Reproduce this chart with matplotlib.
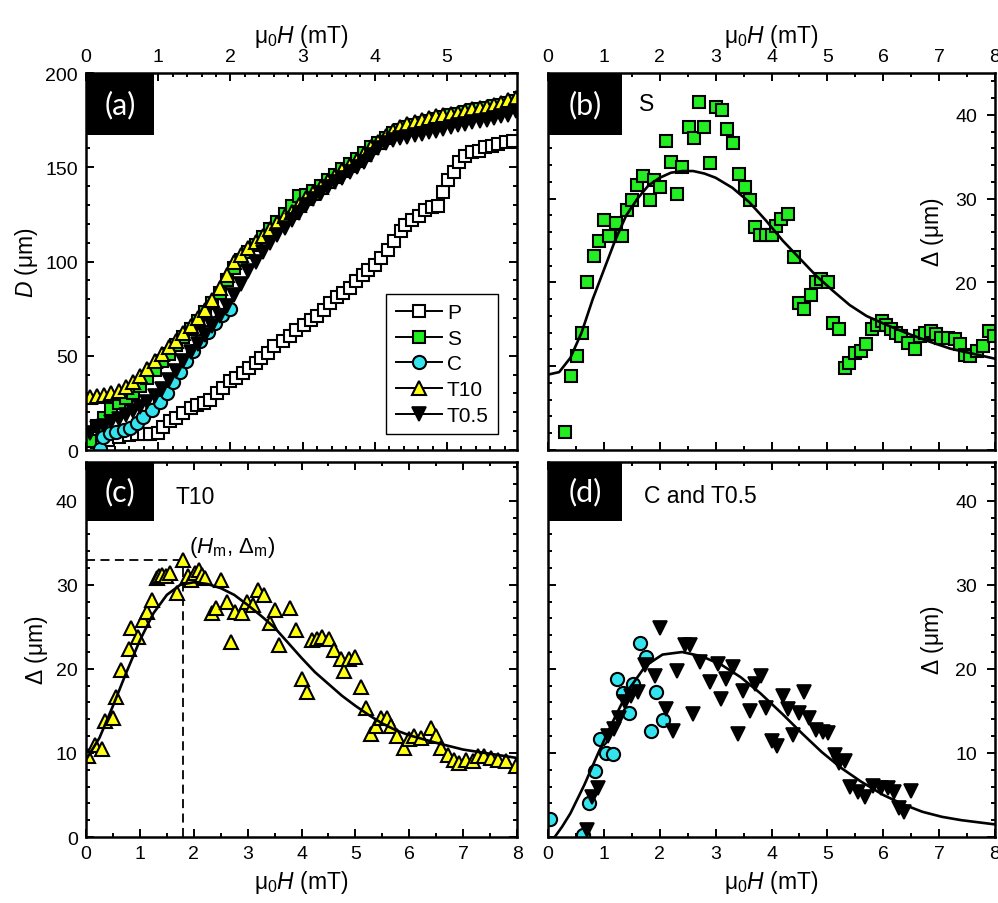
import matplotlib.pyplot as plt
import numpy as np
from matplotlib import font_manager as fm
from matplotlib.lines import Line2D
from matplotlib.patches import Rectangle
from matplotlib.ticker import MultipleLocator


def italic_family():
    # first sans family that really ships an italic face
    for fam in ['Liberation Sans', 'Arimo', 'Roboto', 'Open Sans', 'Noto Sans', 'DejaVu Sans']:
        for f in fm.fontManager.ttflist:
            if f.name == fam and f.style in ('italic', 'oblique'):
                return fam
    return 'DejaVu Sans'


plt.rcParams['font.family'] = ['Liberation Sans', 'DejaVu Sans']
plt.rcParams['mathtext.fontset'] = 'custom'
plt.rcParams['mathtext.rm'] = 'Liberation Sans'
plt.rcParams['mathtext.it'] = italic_family() + ':italic'

GREEN = '#22ee22'
CYAN = '#33e3ee'
YELLOW = '#ffff14'

# (a) domain size D (um) vs field (mT)
field_a = [0.05, 0.15, 0.25, 0.35, 0.45, 0.55, 0.65, 0.75, 0.85, 0.95,
           1.05, 1.15, 1.25, 1.35, 1.45, 1.55, 1.65, 1.75, 1.85, 1.95,
           2.05, 2.15, 2.25, 2.35, 2.45, 2.55, 2.65, 2.75, 2.85, 2.95,
           3.05, 3.15, 3.25, 3.35, 3.45, 3.55, 3.65, 3.75, 3.85, 3.95,
           4.05, 4.15, 4.25, 4.35, 4.45, 4.55, 4.65, 4.75, 4.85, 4.95,
           5.05, 5.15, 5.25, 5.35, 5.45, 5.55, 5.65, 5.75, 5.85, 5.95]
d_S = [5, 13, 17, 22, 25, 27.5, 30.5, 34, 38, 42.5,
       47, 51, 55.5, 60, 64, 68.5, 73, 78, 83.5, 90,
       96.5, 101, 105, 109, 113, 117, 121, 125, 129.5, 135,
       135.5, 137.5, 140, 143, 146, 149, 151.5, 154.5, 157.5, 160.5,
       163, 165.5, 168, 170, 171.5, 172.5, 173.5, 174.5, 175.5, 176.5,
       177.5, 178.5, 179.5, 180.5, 181, 181.5, 182.5, 183, 184, 185]
d_T10 = [28.3, 28.5, 29.3, 30.0, 31.5, 33.5, 36.0, 39.0, 43.0, 47.0,
         51.0, 54.5, 58.0, 62.0, 66.0, 70.0, 74.5, 79.5, 86.0, 93.0,
         99.5, 103.5, 107.0, 110.5, 113.5, 117.0, 120.5, 124.0, 126.5, 130.0,
         133.5, 136.5, 139.5, 142.5, 145.5, 148.5, 151.0, 154.0, 157.0, 160.5,
         163.5, 166.5, 169.5, 171.5, 173.0, 174.0, 175.0, 176.0, 177.0, 178.0,
         178.5, 179.0, 180.0, 181.0, 181.5, 182.0, 183.0, 184.0, 185.5, 187.0]
d_T05 = [9, 11.5, 13, 15, 16.5, 18.5, 20.5, 23, 25.5, 28.5,
         32.5, 37, 42, 47, 52, 56.5, 61, 66, 71, 76.5,
         82, 88, 95, 100, 105, 110, 114, 118, 122, 126,
         130, 133, 136.5, 139.5, 142, 144.5, 147.5, 150, 153, 156.5,
         160, 163, 164.5, 165.5, 166, 167, 167.5, 168.5, 169.5, 170.5,
         171.5, 172.5, 173, 174, 174.5, 175, 176, 177, 178, 180]
p_field = [0.05, 0.15, 0.30, 0.45, 0.60, 0.70, 0.80, 0.89, 1.00, 1.07,
           1.16, 1.25, 1.34, 1.45, 1.54, 1.63, 1.72, 1.81, 1.90, 1.99,
           2.08, 2.17, 2.26, 2.35, 2.43, 2.52, 2.61, 2.73, 2.82, 2.91,
           3.02, 3.11, 3.20, 3.29, 3.38, 3.47, 3.56, 3.65, 3.74, 3.83,
           3.91, 4.00, 4.09, 4.18, 4.27, 4.36, 4.42, 4.51, 4.61, 4.70,
           4.79, 4.88, 4.95, 5.02, 5.09, 5.16, 5.25, 5.34, 5.44, 5.53,
           5.62, 5.71, 5.81, 5.92]
d_P = [2, 4, 5.5, 7, 8, 8.5, 8.7, 8.7, 9.0, 12.0,
       15.2, 17.0, 19.6, 22.3, 24.0, 24.9, 26.7, 30.2, 32.9, 36.4,
       38.2, 40.8, 43.5, 46.2, 48.8, 51.5, 55.0, 57.6, 60.3, 63.8,
       66.5, 69.1, 71.3, 74.4, 78.0, 81.2, 83.3, 85.9, 89.5, 93.0,
       95.7, 98.3, 101.9, 106.3, 110.7, 116.0, 119.2, 121.8, 124.4, 127.1,
       128.9, 129.5, 136.8, 143.0, 147.4, 152.7, 156.2, 158.0, 158.9, 160.6,
       161.5, 162.4, 163.3, 164.2]
c_field = [0.19, 0.24, 0.33, 0.42, 0.52, 0.61, 0.70, 0.79, 0.91, 1.03,
           1.12, 1.21, 1.30, 1.39, 1.48, 1.58, 1.69, 1.78, 1.88, 2.00]
d_C = [0.5, 7.1, 8.8, 9.7, 10.6, 11.5, 14.1, 17.7, 21.0, 25.6,
       30.0, 36.0, 41.5, 47.0, 52.3, 57.6, 62.4, 67.4, 71.8, 75.0]

# (b) width spread for sample S
s_h = [0.31, 0.42, 0.52, 0.60, 0.70, 0.82, 0.91, 1.01, 1.10, 1.21,
       1.32, 1.42, 1.50, 1.60, 1.70, 1.82, 1.90, 2.01, 2.12, 2.21,
       2.31, 2.40, 2.52, 2.61, 2.71, 2.80, 2.90, 3.01, 3.11, 3.21,
       3.31, 3.41, 3.52, 3.61, 3.70, 3.80, 3.91, 4.01, 4.08, 4.17,
       4.30, 4.41, 4.50, 4.59, 4.70, 4.80, 4.89, 5.01, 5.10, 5.20,
       5.31, 5.38, 5.49, 5.60, 5.70, 5.79, 5.88, 5.97, 6.05, 6.14,
       6.23, 6.32, 6.44, 6.56, 6.65, 6.74, 6.86, 6.95, 7.04, 7.16,
       7.28, 7.37, 7.46, 7.55, 7.67, 7.79, 7.90, 7.99]
s_delta = [2.1, 8.8, 11.2, 14.0, 20.0, 23.2, 25.0, 27.4, 25.6, 27.1,
           25.6, 28.7, 29.9, 31.6, 32.7, 29.8, 32.2, 31.4, 36.9, 34.4,
           30.6, 33.8, 38.6, 37.2, 41.6, 38.6, 34.3, 41.0, 40.6, 38.3,
           36.6, 32.9, 31.4, 29.9, 26.6, 25.7, 25.7, 25.7, 26.8, 27.6,
           28.2, 23.0, 17.6, 16.8, 18.5, 20.0, 20.4, 20.0, 15.2, 14.4,
           9.8, 10.4, 11.6, 11.8, 12.6, 14.4, 14.9, 15.4, 14.9, 14.4,
           14.0, 13.6, 12.8, 12.0, 13.6, 14.0, 14.2, 13.8, 13.4, 13.4,
           13.2, 12.6, 11.4, 11.2, 11.8, 12.4, 14.2, 13.6]
fit_b_h = [0, 0.2, 0.4, 0.6, 0.8, 1.0, 1.2, 1.4, 1.6, 1.8, 2.0, 2.2, 2.4, 2.6, 2.8,
           3.0, 3.3, 3.6, 3.9, 4.2, 4.5, 4.8, 5.1, 5.4, 5.7, 6.0, 6.4, 6.8, 7.2, 7.6, 8.0]
fit_b = [9.0, 9.3, 11.0, 14.0, 18.0, 21.5, 25.0, 28.0, 30.0, 31.6, 32.5, 33.1, 33.3, 33.3, 33.0,
         32.5, 31.3, 29.6, 27.4, 25.0, 22.9, 20.8, 19.0, 17.3, 16.0, 15.1, 14.0, 13.0, 12.1, 11.5, 10.9]

# (c) width spread for sample T10
t10_h = [0.04, 0.16, 0.30, 0.35, 0.50, 0.56, 0.65, 0.79, 0.83, 0.97,
         1.05, 1.14, 1.23, 1.31, 1.36, 1.41, 1.48, 1.56, 1.68, 1.80,
         1.89, 1.95, 2.02, 2.09, 2.15, 2.21, 2.34, 2.42, 2.51, 2.62,
         2.69, 2.77, 2.89, 2.98, 3.10, 3.19, 3.31, 3.42, 3.50, 3.58,
         3.79, 3.89, 4.01, 4.11, 4.20, 4.29, 4.38, 4.51, 4.60, 4.73,
         4.79, 4.88, 5.00, 5.10, 5.19, 5.28, 5.38, 5.47, 5.59, 5.66,
         5.78, 5.90, 6.00, 6.09, 6.21, 6.40, 6.49, 6.59, 6.71, 6.83,
         6.93, 7.05, 7.18, 7.27, 7.39, 7.52, 7.64, 7.80, 7.98]
t10_delta = [9.6, 11.0, 10.5, 13.8, 14.1, 16.6, 19.9, 22.4, 24.9, 23.8,
             25.8, 26.8, 28.2, 30.8, 31.0, 31.2, 31.0, 31.4, 29.0, 33.0,
             31.0, 30.6, 31.4, 31.8, 31.2, 30.8, 26.6, 27.2, 30.6, 28.0,
             23.2, 26.8, 26.6, 28.0, 27.6, 29.4, 28.8, 25.4, 27.0, 22.8,
             27.2, 24.6, 18.8, 17.2, 23.4, 23.6, 23.8, 23.6, 22.2, 21.2,
             19.8, 21.2, 21.4, 17.8, 15.4, 12.2, 13.2, 14.2, 14.2, 13.2,
             12.0, 10.6, 11.6, 12.0, 11.8, 13.0, 12.0, 10.6, 9.8, 9.2,
             8.8, 9.2, 9.0, 9.6, 9.6, 9.4, 9.2, 9.0, 8.4]
fit_c_h = [0, 0.25, 0.5, 0.75, 1.0, 1.25, 1.5, 1.75, 2.0, 2.25, 2.5, 2.75, 3.0, 3.25, 3.5,
           3.75, 4.0, 4.25, 4.5, 4.75, 5.0, 5.25, 5.5, 5.75, 6.0, 6.5, 7.0, 7.5, 8.0]
fit_c = [9.2, 11.8, 15.6, 19.6, 23.4, 26.6, 28.8, 30.0, 30.3, 30.1, 29.6, 28.8, 27.6, 26.3, 24.9,
         23.1, 21.3, 19.6, 18.2, 16.8, 15.6, 14.5, 13.5, 12.7, 12.1, 11.2, 10.4, 9.9, 9.4]

# (d) width spread for samples C and T0.5
dc_h = [0.04, 0.63, 0.73, 0.84, 0.93, 1.04, 1.16, 1.24, 1.34, 1.45,
        1.53, 1.64, 1.75, 1.85, 1.94, 2.05]
dc_delta = [2.1, 0.2, 4.1, 7.8, 11.7, 10.0, 9.9, 18.8, 17.1, 14.7,
            18.2, 23.1, 21.4, 12.6, 17.3, 13.9]
dt_h = [0.69, 0.79, 0.90, 1.07, 1.19, 1.27, 1.37, 1.49, 1.61, 1.73,
        1.91, 2.00, 2.12, 2.23, 2.30, 2.45, 2.54, 2.59, 2.72, 2.90,
        3.04, 3.10, 3.19, 3.31, 3.40, 3.49, 3.61, 3.70, 3.82, 3.91,
        4.00, 4.09, 4.21, 4.30, 4.39, 4.49, 4.58, 4.68, 4.80, 4.92,
        5.01, 5.13, 5.20, 5.31, 5.40, 5.55, 5.67, 5.82, 5.96, 6.08,
        6.20, 6.29, 6.38, 6.50]
dt_delta = [0.8, 4.8, 5.8, 12.0, 12.8, 14.2, 16.0, 16.8, 17.2, 20.4,
            19.2, 24.8, 15.2, 12.6, 19.8, 22.8, 22.8, 14.6, 20.8, 18.4,
            20.6, 16.4, 18.8, 20.2, 12.2, 17.4, 15.0, 18.2, 19.2, 15.4,
            11.4, 10.8, 16.8, 15.2, 12.1, 14.8, 17.2, 14.1, 12.7, 12.5,
            12.4, 9.8, 8.8, 9.0, 5.9, 5.4, 4.8, 6.1, 5.8, 5.8,
            5.4, 3.5, 3.0, 5.5]
fit_d_h = [0.12, 0.25, 0.4, 0.65, 0.9, 1.15, 1.45, 1.75, 2.05, 2.4, 2.75, 3.1, 3.45,
           3.8, 4.2, 4.55, 4.9, 5.25, 5.6, 6.0, 6.35, 6.7, 7.05, 7.4, 8.0]
fit_d = [0.0, 1.2, 2.8, 6.2, 10.0, 13.6, 17.6, 20.4, 21.7, 22.0, 21.5, 20.5, 19.0,
         17.1, 14.6, 12.3, 10.1, 8.2, 6.6, 5.0, 3.9, 3.0, 2.4, 2.0, 1.5]

XLAB = r'μ$_0$$\mathit{H}$ (mT)'
DLAB = r'$\mathit{\Delta}$ (μm)'
LABEL_FS = 16.5

sq = dict(ls='none', marker='s', ms=9, mec='black', mew=1.5)
tri = dict(ls='none', marker='^', ms=10.5, mec='black', mew=1.5, mfc=YELLOW)
dtri = dict(ls='none', marker='v', ms=10, mec='black', mew=1.2, mfc='black')
circ = dict(ls='none', marker='o', ms=9.5, mec='black', mew=1.5, mfc=CYAN)

fig = plt.figure(figsize=(9.98, 9.04), dpi=100)
ax_a = fig.add_axes([0.0862, 0.5011, 0.4319, 0.4170])
ax_b = fig.add_axes([0.5491, 0.5011, 0.4479, 0.4170])
ax_c = fig.add_axes([0.0862, 0.0730, 0.4319, 0.4148])
ax_d = fig.add_axes([0.5491, 0.0730, 0.4479, 0.4148])


def frame(ax):
    for s in ax.spines.values():
        s.set_linewidth(1.8)
    ax.tick_params(which='both', direction='in', top=True, bottom=True,
                   left=True, right=True, width=1.4, labelsize=14, pad=6)
    ax.tick_params(which='major', length=6)
    ax.tick_params(which='minor', length=3)


def tag(ax, s, w, h):
    ax.add_patch(Rectangle((0, 1 - h), w, h, transform=ax.transAxes,
                           facecolor='black', edgecolor='none', zorder=5))
    ax.text(w / 2, 1 - h / 2, s, transform=ax.transAxes, color='white',
            fontsize=22, ha='center', va='center', zorder=6,
            family=['Lato', 'DejaVu Sans'])


def right_inside(ax, labels, ylab_y):
    ax.set_yticks([0, 10, 20, 30, 40], labels)
    ax.tick_params(axis='y', which='both', labelleft=False, labelright=True, pad=-13)
    for t in ax.get_yticklabels():
        t.set_horizontalalignment('right')
    ax.text(0.861, ylab_y, DLAB, transform=ax.transAxes, rotation=90,
            ha='center', va='center', fontsize=LABEL_FS)


for ax in (ax_a, ax_b, ax_c, ax_d):
    frame(ax)

# (a)
ax_a.plot(p_field, d_P, mfc='white', **sq)
ax_a.plot(field_a, d_S, mfc=GREEN, **sq)
ax_a.plot(c_field, d_C, **circ)
ax_a.plot(field_a, d_T10, **tri)
ax_a.plot(field_a, d_T05, **dtri)
ax_a.set_xlim(0, 5.97)
ax_a.set_ylim(0, 200)
ax_a.set_xticks([0, 1, 2, 3, 4, 5])
ax_a.xaxis.set_minor_locator(MultipleLocator(0.2))
ax_a.yaxis.set_major_locator(MultipleLocator(50))
ax_a.yaxis.set_minor_locator(MultipleLocator(10))
ax_a.tick_params(axis='x', labeltop=True, labelbottom=False)
ax_a.xaxis.set_label_position('top')
ax_a.set_xlabel(XLAB, fontsize=LABEL_FS)
ax_a.set_ylabel(r'$\mathit{D}$ (μm)', fontsize=LABEL_FS)
tag(ax_a, '(a)', 0.158, 0.164)

handles = [
    Line2D([], [], color='black', lw=1.4, marker='s', ms=9, mfc='white', mec='black', mew=1.5),
    Line2D([], [], color='black', lw=1.4, marker='s', ms=9, mfc=GREEN, mec='black', mew=1.5),
    Line2D([], [], color='black', lw=1.4, marker='o', ms=9.5, mfc=CYAN, mec='black', mew=1.5),
    Line2D([], [], color='black', lw=1.4, marker='^', ms=10.5, mfc=YELLOW, mec='black', mew=1.5),
    Line2D([], [], color='black', lw=1.4, marker='v', ms=10, mfc='black', mec='black', mew=1.2),
]
leg = ax_a.legend(handles, ['P', 'S', 'C', 'T10', 'T0.5'], loc='lower right',
                  bbox_to_anchor=(0.956, 0.042), fancybox=False, edgecolor='black',
                  fontsize=15, handlelength=2.2, handletextpad=0.25,
                  labelspacing=0.32, borderpad=0.45, borderaxespad=0, framealpha=1)
leg.get_frame().set_linewidth(1.0)

# (b)
ax_b.plot(s_h, s_delta, mfc=GREEN, **sq)
ax_b.plot(fit_b_h, fit_b, color='black', lw=1.9, zorder=3)
ax_b.set_xlim(0, 8)
ax_b.set_ylim(0, 45)
ax_b.set_xticks(range(9))
ax_b.xaxis.set_minor_locator(MultipleLocator(0.5))
ax_b.yaxis.set_minor_locator(MultipleLocator(2))
ax_b.tick_params(axis='x', labeltop=True, labelbottom=False)
ax_b.xaxis.set_label_position('top')
ax_b.set_xlabel(XLAB, fontsize=LABEL_FS)
right_inside(ax_b, ['', '', '20', '30', '40'], 0.581)
ax_b.text(0.221, 0.92, 'S', transform=ax_b.transAxes, fontsize=LABEL_FS, ha='center', va='center')
tag(ax_b, '(b)', 0.166, 0.164)

# (c)
ax_c.plot(t10_h, t10_delta, **tri)
ax_c.plot(fit_c_h, fit_c, color='black', lw=1.9, zorder=3)
i_peak = int(np.argmax(t10_delta))
hm, dm = t10_h[i_peak], t10_delta[i_peak]
ax_c.plot([0, hm], [dm, dm], color='black', lw=1.3, ls=(0, (5, 3)), zorder=1)
ax_c.plot([hm, hm], [0, dm], color='black', lw=1.3, ls=(0, (5, 3)), zorder=1)
ax_c.text(hm + 0.12, dm + 1.5, r'($\mathit{H}_\mathrm{m}$, Δ$_\mathrm{m}$)', fontsize=16,
          ha='left', va='center')
ax_c.set_xlim(0, 8)
ax_c.set_ylim(0, 44.6)
ax_c.set_xticks(range(9))
ax_c.xaxis.set_minor_locator(MultipleLocator(0.5))
ax_c.set_yticks([0, 10, 20, 30, 40])
ax_c.yaxis.set_minor_locator(MultipleLocator(2))
ax_c.set_xlabel(XLAB, fontsize=LABEL_FS)
ax_c.set_ylabel(DLAB, fontsize=LABEL_FS)
ax_c.text(0.253, 0.909, 'T10', transform=ax_c.transAxes, fontsize=LABEL_FS, ha='center', va='center')
tag(ax_c, '(c)', 0.158, 0.157)

# (d)
ax_d.plot(dc_h, dc_delta, **circ)
ax_d.plot(dt_h, dt_delta, **dtri)
ax_d.plot(fit_d_h, fit_d, color='black', lw=1.9, zorder=3)
ax_d.set_xlim(0, 8)
ax_d.set_ylim(0, 44.6)
ax_d.set_xticks(range(9))
ax_d.xaxis.set_minor_locator(MultipleLocator(0.5))
ax_d.yaxis.set_minor_locator(MultipleLocator(2))
ax_d.set_xlabel(XLAB, fontsize=LABEL_FS)
right_inside(ax_d, ['', '10', '20', '30', '40'], 0.528)
ax_d.text(0.34, 0.912, 'C and T0.5', transform=ax_d.transAxes, fontsize=LABEL_FS, ha='center', va='center')
tag(ax_d, '(d)', 0.166, 0.157)

fig.savefig('out.png', dpi=100)
